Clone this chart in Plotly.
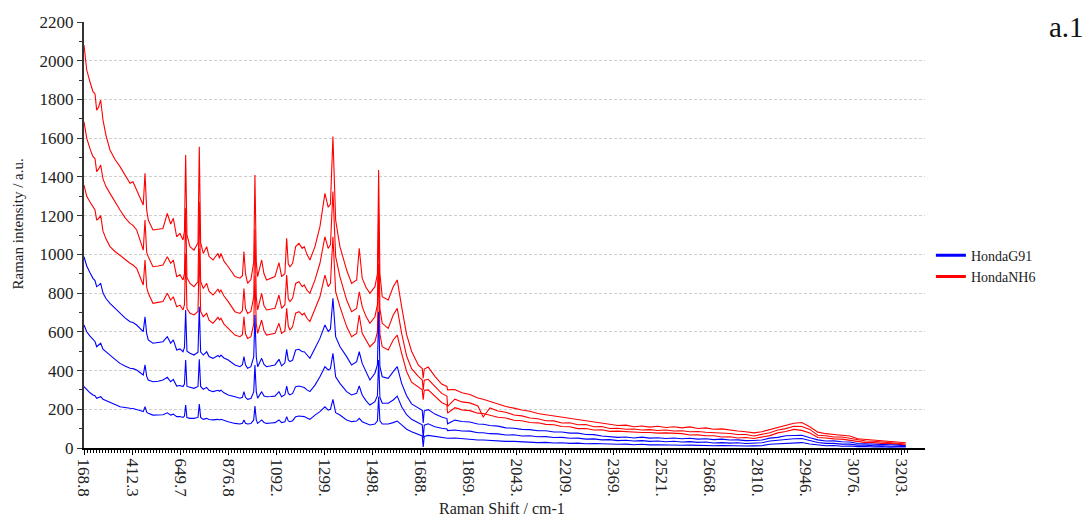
import plotly.graph_objects as go

# CCD channel index of each sample (shared by all six spectra)
channel = [0, 3.4, 7.5, 11.2, 13.7, 15.8, 18.1, 20.8, 23.7, 27.4, 32.4, 38.7, 44.9, 51.1, 57.4, 61.1, 65.7, 69.8, 73.9, 76.1,
           78.2, 80.2, 86.0, 92.3, 98.5, 103.9, 108.1, 111.4, 115.6, 119.7, 123.5, 125.3, 126.8, 128.4, 132.2, 137.2, 142.2, 143.8, 145.5, 148.8,
           153.0, 155.9, 160.9, 167.1, 169.0, 170.8, 174.6, 179.9, 188.3, 194.5, 197.6, 199.5, 201.4, 204.1, 208.2, 211.7, 213.2, 214.9, 216.6, 221.6,
           224.5, 227.8, 233.2, 238.2, 243.2, 246.5, 250.6, 252.8, 254.8, 256.9, 260.2, 264.0, 268.1, 272.2, 274.7, 278.1, 281.8, 288.1, 294.3, 300.5,
           304.6, 307.4, 310.5, 313.9, 319.2, 327.6, 333.8, 340.1, 343.3, 347.0, 351.7, 356.6, 362.9, 366.0, 367.5, 369.1, 372.0, 379.5, 385.7, 390.7,
           396.2, 402.4, 408.6, 416.9, 421.9, 423.1, 424.4, 429.3, 437.7, 446.1, 452.7, 453.5,
           462.6, 471.4, 481.3, 491.3, 497.9, 506.3, 516.3, 526.2, 536.2, 546.2,
           556.2, 566.1, 576.1, 586.1, 596.1, 606.0, 616.0, 626.0, 636.0, 645.9,
           655.9, 665.9, 675.9, 685.9, 695.8, 705.8, 715.8, 725.8, 735.7, 745.7,
           755.7, 765.7, 775.6, 785.6, 795.6, 805.6, 815.5, 825.5, 835.5, 845.5,
           855.4, 865.4, 875.4, 885.4, 895.3, 905.3, 915.3, 925.3, 935.3, 945.2,
           955.2, 965.2, 975.2, 985.1, 995.1, 1005.1, 1015.1, 1025.0]

# Raman shift labels shown at every 60th channel
tick_channels = [0, 60, 120, 180, 240, 300, 360, 420, 480, 540, 600, 660, 720, 780, 840, 900, 960, 1020]
tick_labels = ["168.8", "412.3", "649.7", "876.8", "1092.", "1299.", "1498.", "1688.", "1869.",
               "2043.", "2209.", "2369.", "2521.", "2668.", "2810.", "2946.", "3076.", "3203."]

nh6_scan3 = [2081, 1952, 1890, 1840, 1830, 1745, 1760, 1797, 1694, 1615, 1539, 1490, 1453, 1410, 1367, 1375, 1332, 1295, 1255, 1419,
             1230, 1177, 1126, 1130, 1134, 1212, 1157, 1186, 1091, 1108, 1074, 1120, 1513, 1100, 1040, 1022, 1060, 1556, 1060, 1005,
             1040, 990, 971, 1005, 980, 1005, 965, 936, 885, 877, 890, 1014, 900, 850, 870, 960, 1410, 960, 885, 971,
             900, 868, 875, 885, 957, 885, 900, 1083, 950, 936, 954, 1040, 1057, 1031, 1040, 1000, 971, 1040, 1143, 1315,
             1243, 1260, 1608, 1177, 1040, 919, 850, 868, 1031, 877, 830, 799, 833, 900, 1436, 900, 781, 764, 833, 868,
             730, 585, 500, 429, 410, 360, 408, 418, 370, 330, 318, 300,
             302, 285, 276, 258, 252, 240, 228, 214, 206, 196,
             190, 178, 172, 166, 157, 154, 146, 141, 133, 128,
             122, 116, 118, 110, 114, 108, 112, 106, 110, 104,
             109, 101, 104, 97, 99, 92, 88, 84, 78, 84,
             95, 108, 118, 128, 132, 110, 82, 74, 70, 66,
             62, 48, 44, 41, 39, 35, 31, 27]

nh6_scan2 = [1685, 1600, 1545, 1504, 1495, 1427, 1440, 1461, 1390, 1350, 1315, 1270, 1229, 1190, 1160, 1150, 1126, 1075, 1022, 1177,
             1010, 988, 936, 940, 945, 988, 954, 971, 885, 895, 868, 900, 1240, 880, 850, 833, 860, 1270, 860, 824,
             850, 810, 790, 820, 805, 816, 785, 756, 704, 695, 710, 824, 720, 695, 705, 780, 1130, 780, 713, 799,
             735, 713, 718, 721, 790, 721, 740, 893, 770, 756, 773, 850, 859, 833, 842, 815, 799, 868, 954, 1091,
             1031, 1050, 1325, 988, 885, 764, 704, 721, 807, 730, 680, 644, 678, 740, 1200, 720, 644, 618, 687, 721,
             592, 475, 410, 370, 352, 300, 350, 355, 318, 282, 268, 215,
             252, 238, 233, 217, 160, 207, 191, 185, 170, 166,
             155, 151, 141, 140, 129, 130, 120, 121, 110, 111,
             101, 102, 97, 98, 93, 95, 90, 93, 88, 89,
             84, 85, 81, 80, 76, 75, 70, 70, 62, 70,
             79, 93, 100, 112, 111, 96, 66, 63, 57, 57,
             50, 42, 36, 35, 31, 30, 24, 21]

nh6_scan1 = [1358, 1300, 1270, 1246, 1230, 1177, 1185, 1200, 1120, 1080, 1040, 1015, 997, 975, 954, 945, 928, 885, 842, 971,
             830, 799, 747, 752, 756, 799, 764, 781, 730, 738, 713, 740, 1005, 720, 696, 687, 705, 1030, 705, 678,
             696, 660, 644, 675, 662, 670, 640, 618, 583, 575, 585, 678, 590, 566, 575, 640, 890, 640, 592, 661,
             605, 583, 588, 592, 644, 592, 605, 721, 630, 609, 627, 696, 704, 687, 696, 670, 653, 713, 781, 893,
             833, 850, 1091, 807, 730, 627, 575, 592, 687, 592, 555, 523, 549, 600, 950, 590, 523, 506, 558, 583,
             489, 395, 340, 315, 300, 250, 298, 300, 265, 235, 222, 180,
             208, 197, 193, 180, 178, 168, 159, 155, 143, 141,
             132, 130, 122, 120, 111, 110, 100, 101, 93, 94,
             86, 87, 84, 83, 80, 80, 77, 78, 75, 74,
             67, 68, 63, 63, 57, 58, 52, 54, 49, 56,
             64, 78, 85, 96, 91, 77, 54, 52, 47, 46,
             40, 34, 28, 28, 24, 24, 18, 15]

g91_scan3 = [988, 940, 905, 876, 865, 833, 840, 850, 800, 772, 747, 720, 696, 672, 652, 648, 635, 618, 601, 678,
             590, 558, 541, 545, 549, 575, 541, 558, 506, 512, 497, 520, 713, 500, 489, 480, 495, 730, 495, 480,
             497, 472, 463, 478, 470, 480, 465, 454, 429, 420, 430, 472, 430, 412, 420, 470, 687, 470, 420, 463,
             432, 420, 425, 429, 458, 424, 440, 510, 455, 446, 454, 506, 510, 497, 497, 478, 463, 515, 566, 635,
             601, 615, 773, 575, 524, 472, 429, 446, 497, 437, 390, 351, 386, 430, 704, 420, 368, 360, 394, 420,
             334, 270, 228, 205, 195, 130, 192, 198, 175, 160, 152, 125,
             144, 137, 134, 124, 123, 116, 113, 104, 102, 96,
             95, 89, 89, 83, 83, 77, 77, 70, 69, 62,
             60, 55, 57, 52, 56, 51, 53, 49, 52, 48,
             50, 46, 48, 43, 46, 41, 42, 38, 39, 41,
             51, 55, 63, 64, 66, 53, 42, 36, 37, 32,
             31, 23, 22, 18, 19, 16, 15, 12]

g91_scan2 = [635, 600, 578, 558, 550, 523, 530, 541, 510, 495, 480, 458, 437, 423, 412, 410, 403, 390, 377, 429,
             370, 351, 342, 345, 351, 365, 342, 354, 320, 323, 317, 330, 454, 318, 313, 308, 318, 458, 318, 303,
             313, 298, 291, 298, 293, 299, 285, 274, 265, 257, 262, 291, 262, 251, 256, 290, 429, 290, 257, 291,
             268, 265, 266, 268, 291, 265, 275, 320, 282, 274, 282, 317, 320, 317, 312, 300, 291, 325, 368, 420,
             403, 410, 489, 368, 334, 291, 274, 282, 320, 274, 245, 222, 239, 270, 454, 262, 231, 231, 248, 268,
             213, 172, 148, 130, 120, 50, 118, 125, 110, 102, 98, 90,
             93, 88, 87, 79, 79, 74, 73, 67, 68, 62,
             63, 58, 59, 54, 55, 50, 51, 46, 47, 42,
             43, 38, 40, 36, 38, 34, 36, 32, 35, 31,
             33, 29, 31, 26, 28, 25, 27, 23, 25, 27,
             36, 40, 47, 48, 49, 39, 28, 24, 24, 20,
             20, 15, 15, 11, 12, 9, 10, 8]

g91_scan1 = [317, 300, 285, 274, 270, 257, 260, 265, 252, 246, 239, 225, 213, 208, 205, 204, 200, 194, 188, 213,
             185, 179, 170, 170, 172, 182, 170, 175, 162, 163, 158, 165, 222, 157, 153, 153, 158, 227, 158, 148,
             153, 147, 145, 148, 145, 148, 142, 136, 127, 124, 128, 145, 128, 124, 126, 145, 217, 145, 127, 145,
             132, 127, 129, 131, 145, 131, 135, 162, 140, 136, 141, 162, 165, 162, 162, 155, 148, 170, 188, 213,
             196, 200, 251, 182, 170, 145, 136, 139, 153, 136, 127, 119, 124, 140, 265, 140, 124, 124, 131, 139,
             119, 97, 84, 70, 62, 5, 60, 65, 60, 56, 54, 50,
             52, 48, 47, 41, 41, 38, 38, 34, 34, 31,
             31, 28, 29, 26, 27, 24, 25, 22, 23, 21,
             22, 19, 20, 17, 19, 16, 17, 15, 16, 14,
             15, 13, 14, 12, 13, 11, 12, 10, 11, 12,
             19, 21, 26, 26, 28, 21, 15, 12, 13, 9,
             10, 7, 8, 5, 7, 4, 6, 5]

series_names = ["HondaG91", "HondaNH6"]
series_colors = ["#0000ff", "#ff0000"]

SERIF = "Liberation Serif, Times New Roman, serif"
TXT = "#222222"

fig = go.Figure()

# legend entries
for nm, col in zip(series_names, series_colors):
    fig.add_trace(go.Scatter(x=[None], y=[None], mode="lines", name=nm,
                             line=dict(color=col, width=3), showlegend=True))

for ys in [nh6_scan1, nh6_scan2, nh6_scan3]:
    fig.add_trace(go.Scatter(x=channel, y=ys, mode="lines", showlegend=False,
                             line=dict(color=series_colors[1], width=1.1), hoverinfo="skip"))
for ys in [g91_scan1, g91_scan2, g91_scan3]:
    fig.add_trace(go.Scatter(x=channel, y=ys, mode="lines", showlegend=False,
                             line=dict(color=series_colors[0], width=1.1), hoverinfo="skip"))

minor_x = [i * 3.75 for i in range(275)]

fig.update_layout(
    width=1091, height=519,
    margin=dict(l=84, r=166, t=22, b=71),
    paper_bgcolor="white", plot_bgcolor="white",
    font=dict(family=SERIF, color=TXT),
    showlegend=True,
    legend=dict(x=1.007, y=0.489, xanchor="left", yanchor="top",
                font=dict(family=SERIF, size=14, color=TXT),
                bgcolor="rgba(0,0,0,0)", borderwidth=0, tracegroupgap=0),
    xaxis=dict(range=[0, 1049], tickmode="array", tickvals=tick_channels, ticktext=tick_labels,
               tickangle=90, ticks="outside", ticklen=5, tickcolor="black", tickwidth=1,
               showline=True, linecolor="black", linewidth=2, showgrid=False, zeroline=False,
               tickfont=dict(family=SERIF, size=17, color=TXT),
               minor=dict(tickmode="array", tickvals=minor_x, ticks="outside", ticklen=3,
                          tickcolor="black", tickwidth=1, showgrid=False)),
    yaxis=dict(range=[0, 2200], dtick=200, tick0=0, ticks="outside", ticklen=5, tickcolor="#333333",
               showline=True, linecolor="#333333", linewidth=2, zeroline=False,
               showgrid=True, gridcolor="#cfcfcf", gridwidth=1, griddash="3px,2px",
               tickfont=dict(family=SERIF, size=17, color=TXT),
               minor=dict(dtick=100, ticks="outside", ticklen=3, tickcolor="#333333", showgrid=False)),
    annotations=[
        dict(text="Raman intensity / a.u.", xref="paper", yref="paper",
             x=(17.5 - 84) / 841, y=(448 - 224) / 426, textangle=-90, showarrow=False,
             xanchor="center", yanchor="middle", font=dict(family=SERIF, size=15, color=TXT)),
        dict(text="Raman Shift / cm-1", xref="paper", yref="paper",
             x=(502 - 84) / 841, y=-(508 - 448) / 426, showarrow=False,
             xanchor="center", yanchor="middle", font=dict(family=SERIF, size=16, color=TXT)),
        dict(text="a.1", xref="paper", yref="paper",
             x=(1066 - 84) / 841, y=(448 - 27) / 426, showarrow=False,
             xanchor="center", yanchor="middle", font=dict(family=SERIF, size=29, color="#111111")),
    ],
)

fig.write_html("out.html", config={"displayModeBar": False})

# remove the default page margin so the figure sits at the window's top-left corner
with open("out.html", "r", encoding="utf-8") as f:
    html = f.read()
html = html.replace("<body>", '<body style="margin:0;padding:0;">', 1)
with open("out.html", "w", encoding="utf-8") as f:
    f.write(html)
